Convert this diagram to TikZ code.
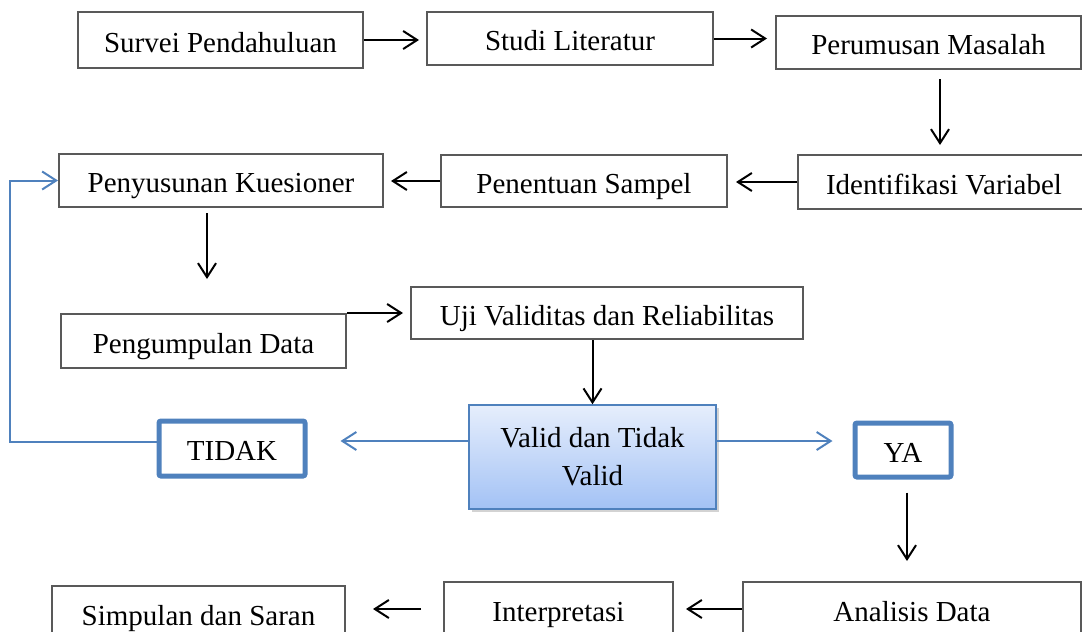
\documentclass[tikz,border=0pt]{standalone}
\usepackage{fontspec}
\setmainfont{Liberation Serif}
\usetikzlibrary{arrows.meta,shadows}
\definecolor{boxgray}{HTML}{595959}
\definecolor{ablue}{HTML}{4F81BD}
\definecolor{vtop}{HTML}{E6EEFC}
\definecolor{vbot}{HTML}{A3C2F5}

\begin{document}
\begin{tikzpicture}[x=0.5pt, y=-0.5pt, >={Straight Barb[length=7pt,width=9pt]},
block/.style = {rectangle, draw=boxgray, line width=1pt, align=center, inner sep=0pt,
  text height=15pt, text depth=3pt, font=\fontsize{14.5}{19}\selectfont},
choice/.style = {block, draw=ablue, line width=2.5pt, rounded corners=1pt},
blueline/.style = {draw=ablue, line width=1pt}]
\clip (0,0) rectangle (1082,632);
\useasboundingbox (0,0) rectangle (1082,632);
\node[block, minimum width=142.5pt, minimum height=28pt] at (220.5,40) (survei) {Survei Pendahuluan};
\node[block, minimum width=143pt, minimum height=26.5pt] at (570,38.5) (studi) {Studi Literatur};
\node[block, minimum width=152.5pt, minimum height=26.5pt] at (928.5,42.5) (perumusan) {Perumusan Masalah};
\node[block, minimum width=146pt, minimum height=27pt] at (944,182) (identifikasi) {Identifikasi Variabel};
\node[block, minimum width=143pt, minimum height=26pt] at (584,181) (penentuan) {Penentuan Sampel};
\node[block, minimum width=162pt, minimum height=26.5pt] at (221,180.5) (penyusunan) {Penyusunan Kuesioner};
\node[block, minimum width=142.5pt, minimum height=27pt] at (203.5,341) (pengumpulan) {Pengumpulan Data};
\node[block, minimum width=196pt, minimum height=26pt] at (607,313) (uji) {Uji Validitas dan Reliabilitas};
\node[block, draw=ablue, line width=0.75pt, top color=vtop, bottom color=vbot,
  text height=, text depth=,
  drop shadow={shadow xshift=1.5pt, shadow yshift=-1.5pt, opacity=0.35},
  minimum width=123.5pt, minimum height=52pt] at (592.5,457) (valid) {Valid dan Tidak\\Valid};
\node[choice, minimum width=73pt, minimum height=27.5pt] at (232,448.5) (tidak) {TIDAK};
\node[choice, minimum width=48pt, minimum height=27pt] at (903,450) (ya) {YA};
\node[block, minimum width=169pt, minimum height=27pt] at (912,609) (analisis) {Analisis Data};
\node[block, minimum width=114.5pt, minimum height=27pt] at (558.5,609) (interpretasi) {Interpretasi};
\node[block, minimum width=146.5pt, minimum height=27pt] at (198.5,613) (simpulan) {Simpulan dan Saran};
\draw [->] (survei.east) [line width=1pt, shorten >=3.5pt] -- (survei.east -| studi.west);
\draw [->] (studi.east) [line width=1pt, shorten >=4pt] -- (studi.east -| perumusan.west);
\draw [->] ([xshift=5.75pt]perumusan.south) [line width=1pt, shorten <=4.5pt, shorten >=4.5pt]
  -- ([xshift=5.75pt]perumusan.south |- identifikasi.north);
\draw [->] (identifikasi.west) [line width=1pt, shorten >=4pt] -- (identifikasi.west -| penentuan.east);
\draw [->] (penentuan.west) [line width=1pt, shorten >=3.5pt] -- (penentuan.west -| penyusunan.east);
\draw [->] ([xshift=-7pt]penyusunan.south) [line width=1pt, shorten <=2.5pt, shorten >=17pt]
  -- ([xshift=-7pt]penyusunan.south |- pengumpulan.north);
\draw [->] (pengumpulan.north east) [line width=1pt, shorten >=3.5pt] -- (pengumpulan.north east -| uji.west);
\draw [->] (valid.north |- uji.south) [line width=1pt] -- (valid.north);
\draw [->, blueline] ([yshift=8pt]valid.west) [shorten >=16.5pt] -- ([yshift=8pt]valid.west -| tidak.east);
\draw [->, blueline] ([yshift=8pt]valid.east) [shorten >=10pt] -- ([yshift=8pt]valid.east -| ya.west);
\draw [->, blueline] ([yshift=3.5pt]tidak.west) -- ++(-147,0) |- (penyusunan.west);
\draw [->] ([xshift=2pt]ya.south) [line width=1pt, shorten <=6.5pt, shorten >=10pt]
  -- ([xshift=2pt]ya.south |- analisis.north);
\draw [->] (analisis.west) [line width=1pt, shorten >=6pt] -- (analisis.west -| interpretasi.east);
\draw [->] (interpretasi.west) [line width=1pt, shorten <=11pt, shorten >=13.5pt] -- (interpretasi.west -| simpulan.east);
\end{tikzpicture}
\end{document}
